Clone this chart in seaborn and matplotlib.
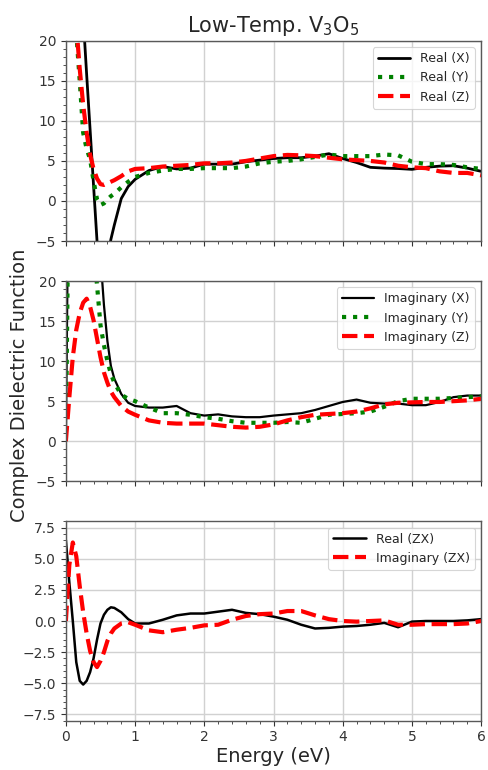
import numpy as np
import pandas as pd
import matplotlib
matplotlib.use("Agg")
import matplotlib.pyplot as plt
from matplotlib.ticker import MultipleLocator
import seaborn as sns

# ---- data ----
energy = [0.0, 0.05, 0.1, 0.15, 0.2, 0.25, 0.3, 0.35, 0.4, 0.45, 0.5, 0.55, 0.6, 0.65,
          0.7, 0.8, 0.9, 1.0, 1.2, 1.4, 1.6, 1.8, 2.0, 2.2, 2.4, 2.6, 2.8, 3.0, 3.2,
          3.4, 3.6, 3.8, 4.0, 4.2, 4.4, 4.6, 4.8, 5.0, 5.2, 5.4, 5.6, 5.8, 6.0]

real_x = [80, 70, 60, 45, 32, 23, 15.8, 8.9, 1.9, -5, -8, -9, -7.5, -4.8,
          -3.0, 0.3, 1.8, 2.7, 3.8, 4.3, 4.0, 4.1, 4.6, 4.6, 4.6, 4.9, 5.1, 5.3, 5.4,
          5.4, 5.6, 5.9, 5.3, 4.8, 4.2, 4.1, 4.05, 3.95, 4.2, 4.35, 4.4, 4.1, 3.7]
real_y = [40, 32, 26, 21, 15, 8.5, 6.5, 5.2, 2.5, 0.2, -0.5, -0.3, 0.2, 0.6,
          0.9, 1.7, 2.4, 3.0, 3.5, 3.8, 4.0, 4.0, 4.1, 4.1, 4.1, 4.3, 4.7, 4.9, 5.0,
          5.2, 5.5, 5.8, 5.6, 5.6, 5.6, 5.8, 5.7, 4.9, 4.6, 4.6, 4.5, 4.2, 4.0]
real_z = [40, 32, 26, 22, 16.5, 12, 8.5, 5.8, 4.0, 2.8, 2.1, 2.0, 2.2, 2.4,
          2.6, 3.1, 3.7, 4.0, 4.1, 4.3, 4.4, 4.5, 4.7, 4.7, 4.8, 5.0, 5.3, 5.6, 5.75,
          5.7, 5.6, 5.4, 5.2, 5.1, 5.0, 4.8, 4.4, 4.2, 4.1, 3.7, 3.5, 3.5, 3.2]

imag_x = [0, 45, 60, 60, 55, 50, 45, 40, 34, 28, 23, 17, 12.5, 9.4,
          7.8, 5.9, 4.8, 4.4, 4.2, 4.2, 4.4, 3.5, 3.2, 3.35, 3.1, 3.0, 3.0, 3.2, 3.35,
          3.5, 3.9, 4.4, 4.9, 5.2, 4.8, 4.7, 4.7, 4.5, 4.5, 4.9, 5.5, 5.7, 5.7]
imag_y = [0, 40, 50, 48, 42, 36, 31, 27, 24, 19.5, 14.5, 12, 10, 8.4,
          7.3, 5.8, 5.3, 5.0, 4.2, 3.5, 3.5, 3.3, 3.0, 2.8, 2.5, 2.3, 2.3, 2.3, 2.4,
          2.3, 2.8, 3.3, 3.4, 3.5, 3.7, 4.3, 5.0, 5.3, 5.3, 5.3, 5.4, 5.5, 5.6]
imag_z = [0, 5.5, 10.5, 13.9, 16, 17.3, 17.8, 16.8, 15.1, 12.8, 10.5, 8.6, 7.3, 6.2,
          5.5, 4.4, 3.7, 3.3, 2.6, 2.3, 2.2, 2.2, 2.2, 2.0, 1.8, 1.7, 1.8, 2.1, 2.6,
          3.0, 3.3, 3.4, 3.5, 3.7, 4.1, 4.6, 4.8, 4.85, 4.9, 4.9, 5.0, 5.1, 5.3]

real_zx = [6.5, 3.1, 0.0, -3.3, -4.8, -5.1, -4.8, -4.1, -3.0, -1.5, -0.2, 0.5, 0.9, 1.1,
           1.05, 0.7, 0.15, -0.2, -0.2, 0.1, 0.45, 0.6, 0.6, 0.75, 0.9, 0.65, 0.55, 0.35, 0.1,
           -0.3, -0.6, -0.55, -0.45, -0.4, -0.3, -0.15, -0.5, -0.05, 0.0, 0.0, 0.0, 0.05, 0.15]
imag_zx = [0.0, 4.5, 6.3, 5.2, 2.8, 0.7, -1.0, -2.4, -3.3, -3.7, -3.2, -2.5, -1.6, -1.0,
           -0.6, -0.2, -0.1, -0.3, -0.75, -0.9, -0.7, -0.55, -0.35, -0.3, 0.1, 0.4, 0.55, 0.6, 0.8,
           0.8, 0.45, 0.15, 0.0, -0.05, 0.0, 0.05, -0.3, -0.3, -0.25, -0.25, -0.25, -0.2, 0.0]

x_ticks = [0, 1, 2, 3, 4, 5, 6]
y_ticks_top = [-5, 0, 5, 10, 15, 20]
y_ticks_bot = [-7.5, -5.0, -2.5, 0.0, 2.5, 5.0, 7.5]

# ---- styling ----
sns.set_style("whitegrid", {
    "axes.edgecolor": "0.35",
    "grid.color": "0.82",
    "xtick.bottom": True,
    "ytick.left": True,
    "xtick.color": "0.2",
    "ytick.color": "0.2",
})
plt.rcParams["font.family"] = ["DejaVu Sans"]

fig = plt.figure(figsize=(4.88, 7.70), dpi=100)
L, W = 0.135, 0.851
ax1 = fig.add_axes([L, 0.687, W, 0.260])
ax2 = fig.add_axes([L, 0.375, W, 0.260])
ax3 = fig.add_axes([L, 0.064, W, 0.259])

df = pd.DataFrame({"E": energy})

def draw(ax, y, color, ls, lw, label):
    sns.lineplot(x=df["E"], y=y, ax=ax, color=color, linestyle=ls, linewidth=lw,
                 label=label, sort=False)

draw(ax1, real_x, "black", "-", 2.0, "Real (X)")
draw(ax1, real_y, "green", ":", 3.0, "Real (Y)")
draw(ax1, real_z, "red", "--", 3.0, "Real (Z)")

draw(ax2, imag_x, "black", "-", 1.6, "Imaginary (X)")
draw(ax2, imag_y, "green", ":", 3.0, "Imaginary (Y)")
draw(ax2, imag_z, "red", "--", 3.0, "Imaginary (Z)")

draw(ax3, real_zx, "black", "-", 1.8, "Real (ZX)")
draw(ax3, imag_zx, "red", "--", 3.0, "Imaginary (ZX)")

for ax in (ax1, ax2, ax3):
    ax.set_xlim(0, 6)
    ax.set_xticks(x_ticks)
    ax.xaxis.set_minor_locator(MultipleLocator(0.2))
    ax.grid(True, which="major", color="0.82", linewidth=1.0)
    ax.grid(False, which="minor")
    ax.tick_params(which="major", direction="out", length=3.5, width=0.8, labelsize=10)
    ax.tick_params(which="minor", direction="out", length=2, width=0.6,
                   bottom=True, left=True)
    ax.set_xlabel("")
    ax.set_ylabel("")
    for s in ax.spines.values():
        s.set_linewidth(1.0)
    leg = ax.legend(loc="upper right", fontsize=9, frameon=True, handlelength=2.6,
                    borderpad=0.4, labelspacing=0.5)
    leg.get_frame().set_edgecolor("0.8")
    leg.get_frame().set_linewidth(0.8)

for ax in (ax1, ax2):
    ax.set_ylim(-5, 20)
    ax.set_yticks(y_ticks_top)
    ax.yaxis.set_minor_locator(MultipleLocator(1))
    ax.tick_params(axis="x", labelbottom=False)

ax3.set_ylim(-8, 8)
ax3.set_yticks(y_ticks_bot)
ax3.yaxis.set_minor_locator(MultipleLocator(0.5))
ax3.set_xlabel("Energy (eV)", fontsize=14, labelpad=2)

ax1.set_title("Low-Temp. V$_3$O$_5$", fontsize=15, pad=6)
fig.text(0.04, 0.50, "Complex Dielectric Function", rotation=90, fontsize=14,
         ha="center", va="center")

fig.savefig("out.png", dpi=100)
